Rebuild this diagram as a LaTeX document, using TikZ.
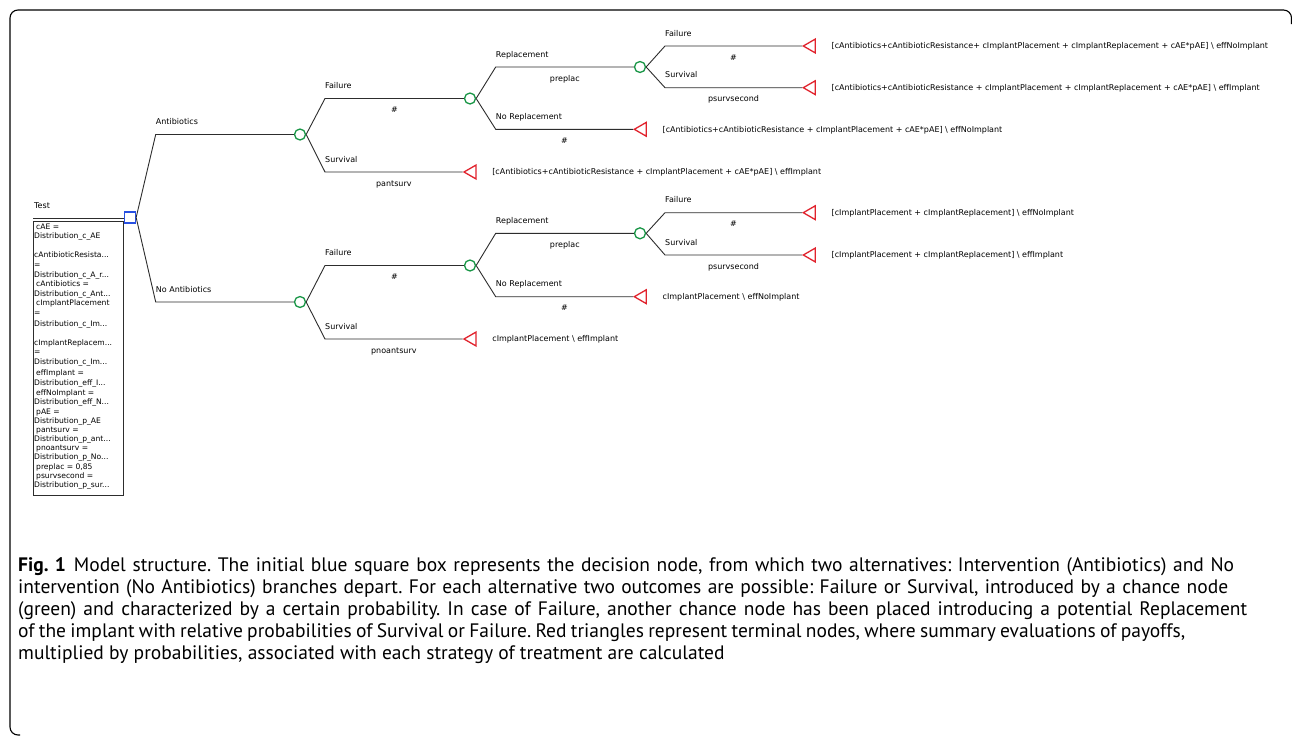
\documentclass[tikz,border=0pt]{standalone}
\usepackage{fontspec}
\setmainfont{DejaVu Sans}
\newfontfamily\capfont{PT Sans}
\usetikzlibrary{shapes.geometric,calc}
\definecolor{chgreen}{RGB}{25,150,70}
\definecolor{termred}{RGB}{225,35,45}
\definecolor{decblue}{RGB}{40,80,225}
\definecolor{edgecol}{RGB}{45,45,45}
\frenchspacing
\begin{document}
\begin{tikzpicture}[x=1pt,y=-1pt,
  chance/.style={circle,draw=chgreen,line width=1.3pt,minimum size=11pt,inner sep=0pt},
  term/.style={regular polygon,regular polygon sides=3,shape border rotate=90,draw=termred,line width=1.3pt,minimum size=16pt,inner sep=0pt},
  decision/.style={rectangle,draw=decblue,line width=1.3pt,minimum size=11pt,inner sep=0pt},
  branch/.style={draw=edgecol,line width=0.9pt},
  lbl/.style={font=\fontsize{8}{9}\selectfont,inner sep=0pt,anchor=base west,yshift=10pt},
  prob/.style={font=\fontsize{8}{9}\selectfont,inner sep=0pt,anchor=base,yshift=-14pt},
  payoff/.style={font=\fontsize{8}{9}\selectfont,inner sep=0pt,anchor=base west,xshift=15.5pt,yshift=-2.8pt},
  boxtxt/.style={font=\fontsize{7.6}{8}\selectfont,inner sep=0pt,anchor=base west},
  captxt/.style={font=\capfont\fontsize{19.5}{22}\selectfont,inner sep=0pt,anchor=base west}
]
\useasboundingbox (0,0) rectangle (1292,736);
\fill[white] (0,0) rectangle (1292,736);
% frame
\draw[line width=1.1pt,rounded corners=8pt] (20,735) -| (10,10) -| (1291.5,24);

% decision node and variable box
\node[decision] (dec) at (130,217.5) {};
\node[boxtxt,font=\fontsize{8}{9}\selectfont] (testlbl) at (34,208) {Test};
\coordinate (tl) at (33,218);
\draw[edgecol,line width=0.8pt] (tl) -- (tl -| dec.west);
\node[draw=edgecol,line width=0.7pt,minimum width=90pt,minimum height=274.5pt,anchor=north west,inner sep=0pt] (varbox) at (33,220.5) {};
\foreach \xx/\yy/\txt [count=\k] in {
 36/226.7/{cAE =},
 34/235.7/{Distribution\_c\_AE},
 34/255/{cAntibioticResista...},
 34/265/{=},
 34/275/{Distribution\_c\_A\_r...},
 36/284.3/{cAntibiotics =},
 34/294.3/{Distribution\_c\_Ant...},
 36/302.7/{cImplantPlacement},
 34/313/{=},
 34/324/{Distribution\_c\_Im...},
 34/342.5/{cImplantReplacem...},
 34/352/{=},
 34/362/{Distribution\_c\_Im...},
 36/373/{effImplant =},
 34/383/{Distribution\_eff\_I...},
 36/393/{effNoImplant =},
 34/402/{Distribution\_eff\_N...},
 36/412/{pAE =},
 34/420.5/{Distribution\_p\_AE},
 36/430/{pantsurv =},
 34/439/{Distribution\_p\_ant...},
 36/448/{pnoantsurv =},
 34/457/{Distribution\_p\_No...},
 36/467/{preplac = 0,85},
 36/476/{psurvsecond =},
 34/485/{Distribution\_p\_sur...}}
 \node[boxtxt] (v\k) at (\xx,\yy+2.5) {\txt};

% chance nodes
\node[chance] (ca) at (300,134.5) {};
\node[chance] (cn) at (300,302) {};
\node[chance] (caf) at (470,98.5) {};
\node[chance] (cnf) at (470,265.5) {};
\node[chance] (car) at (640,67) {};
\node[chance] (cnr) at (640,233.3) {};
% terminal nodes
\node[term] (tA1) at (472,172) {};
\node[term] (tA2) at (642.3,129.3) {};
\node[term] (tA3) at (811.3,46) {};
\node[term] (tA4) at (811.3,87.7) {};
\node[term] (tB1) at (472,339) {};
\node[term] (tB2) at (642.3,296.7) {};
\node[term] (tB3) at (811.3,212.7) {};
\node[term] (tB4) at (811.3,255) {};
% elbows
\coordinate (ea) at (155.7,134.5);
\coordinate (en) at (155.7,302);
\coordinate (eaf) at (325,98.5);
\coordinate (eas) at (325,172);
\coordinate (enf) at (325,265.5);
\coordinate (ens) at (325,339);
\coordinate (earr) at (495.7,67);
\coordinate (eanr) at (495.7,129.3);
\coordinate (enrr) at (495.7,233.3);
\coordinate (ennr) at (495.7,296.7);
\coordinate (earf) at (665,46);
\coordinate (ears) at (665,87.7);
\coordinate (enrf) at (665,212.7);
\coordinate (enrs) at (665,255);

% branches
\draw[branch] (dec.east) -- (ea) -- (ca.west);
\draw[branch] (dec.east) -- (en) -- (cn.west);
\draw[branch] (ca.east) -- (eaf) -- (caf.west);
\draw[branch] (ca.east) -- (eas) -- (tA1.west);
\draw[branch] (cn.east) -- (enf) -- (cnf.west);
\draw[branch] (cn.east) -- (ens) -- (tB1.west);
\draw[branch] (caf.east) -- (earr) -- (car.west);
\draw[branch] (caf.east) -- (eanr) -- (tA2.west);
\draw[branch] (cnf.east) -- (enrr) -- (cnr.west);
\draw[branch] (cnf.east) -- (ennr) -- (tB2.west);
\draw[branch] (car.east) -- (earf) -- (tA3.west);
\draw[branch] (car.east) -- (ears) -- (tA4.west);
\draw[branch] (cnr.east) -- (enrf) -- (tB3.west);
\draw[branch] (cnr.east) -- (enrs) -- (tB4.west);

% branch labels
\node[lbl] (l1) at (ea) {Antibiotics};
\node[lbl] (l2) at (en) {No Antibiotics};
\node[lbl] (l3) at (eaf) {Failure};
\node[lbl] (l4) at (eas) {Survival};
\node[lbl] (l5) at (enf) {Failure};
\node[lbl] (l6) at (ens) {Survival};
\node[lbl] (l7) at (earr) {Replacement};
\node[lbl] (l8) at (eanr) {No Replacement};
\node[lbl] (l9) at (enrr) {Replacement};
\node[lbl] (l10) at (ennr) {No Replacement};
\node[lbl] (l11) at (earf) {Failure};
\node[lbl] (l12) at (ears) {Survival};
\node[lbl] (l13) at (enrf) {Failure};
\node[lbl] (l14) at (enrs) {Survival};

% probabilities
\node[prob] (p1) at ($(eaf)!0.5!(caf.west)$) {\#};
\node[prob] (p2) at ($(eas)!0.5!(tA1.west)$) {pantsurv};
\node[prob] (p3) at ($(enf)!0.5!(cnf.west)$) {\#};
\node[prob] (p4) at ($(ens)!0.5!(tB1.west)$) {pnoantsurv};
\node[prob] (p5) at ($(earr)!0.5!(car.west)$) {preplac};
\node[prob] (p6) at ($(eanr)!0.5!(tA2.west)$) {\#};
\node[prob] (p7) at ($(enrr)!0.5!(cnr.west)$) {preplac};
\node[prob] (p8) at ($(ennr)!0.5!(tB2.west)$) {\#};
\node[prob] (p9) at ($(earf)!0.5!(tA3.west)$) {\#};
\node[prob] (p10) at ($(ears)!0.5!(tA4.west)$) {psurvsecond};
\node[prob] (p11) at ($(enrf)!0.5!(tB3.west)$) {\#};
\node[prob] (p12) at ($(enrs)!0.5!(tB4.west)$) {psurvsecond};

% payoffs
\node[payoff] (o1) at (tA1.east) {[cAntibiotics+cAntibioticResistance + cImplantPlacement + cAE*pAE] \textbackslash{} effImplant};
\node[payoff] (o2) at (tA2.east) {[cAntibiotics+cAntibioticResistance + cImplantPlacement + cAE*pAE] \textbackslash{} effNoImplant};
\node[payoff] (o3) at (tA3.east) {[cAntibiotics+cAntibioticResistance+ cImplantPlacement + cImplantReplacement + cAE*pAE] \textbackslash{} effNoImplant};
\node[payoff] (o4) at (tA4.east) {[cAntibiotics+cAntibioticResistance + cImplantPlacement + cImplantReplacement + cAE*pAE] \textbackslash{} effImplant};
\node[payoff] (o5) at (tB1.east) {cImplantPlacement \textbackslash{} effImplant};
\node[payoff] (o6) at (tB2.east) {cImplantPlacement \textbackslash{} effNoImplant};
\node[payoff] (o7) at (tB3.east) {[cImplantPlacement + cImplantReplacement] \textbackslash{} effNoImplant};
\node[payoff] (o8) at (tB4.east) {[cImplantPlacement + cImplantReplacement] \textbackslash{} effImplant};

% caption
\node[captxt] (cap1) at (18,571) {\makebox[1216pt][s]{\textbf{Fig. 1}\hspace{8pt}Model structure. The initial blue square box represents the decision node, from which two alternatives: Intervention (Antibiotics) and No}};
\node[captxt] (cap2) at (18,593) {\makebox[1210pt][s]{intervention (No Antibiotics) branches depart. For each alternative two outcomes are possible: Failure or Survival, introduced by a chance node}};
\node[captxt] (cap3) at (18,615) {\makebox[1229pt][s]{(green) and characterized by a certain probability. In case of Failure, another chance node has been placed introducing a potential Replacement}};
\node[captxt] (cap4) at (18,637) {\makebox[1167pt][s]{of the implant with relative probabilities of Survival or Failure. Red triangles represent terminal nodes, where summary evaluations of payoffs,}};
\node[captxt] (cap5) at (18,659) {multiplied by probabilities, associated with each strategy of treatment are calculated};
\end{tikzpicture}
\end{document}
